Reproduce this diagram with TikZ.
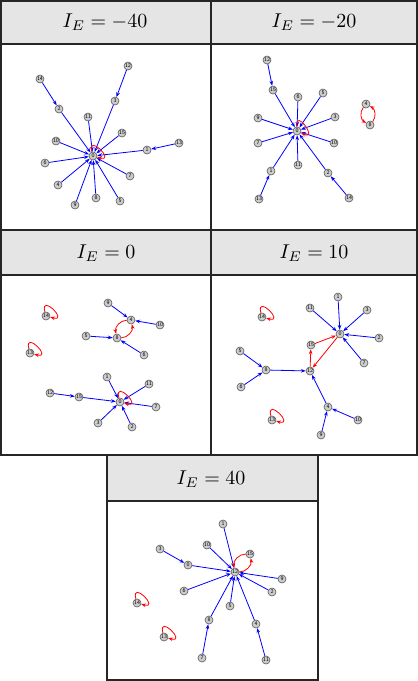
\documentclass[tikz,border=0pt]{standalone}
\usetikzlibrary{arrows.meta}
\tikzset{
  vtx/.style={circle,draw=black!65,fill=black!20,line width=0.3pt,minimum size=4pt,inner sep=0pt,
    font=\sffamily\fontsize{2.8}{3}\selectfont},
  flow/.style={blue,line width=0.4pt,-{Stealth[length=2.4pt,width=1.8pt]}},
  cyc/.style={flow,red},
  selfloop/.style={cyc,out=105,in=-15,min distance=10pt},
  frame/.style={black!85,line width=0.75pt},
  hdr/.style={fill=black!10},
  title/.style={font=\normalsize}
}
\begin{document}
\begin{tikzpicture}[x=0.5pt,y=0.5pt]
  \useasboundingbox (0,0) rectangle (418,-681);
  % frames and headers
  \fill[hdr] (1,-1) rectangle (417,-44);
  \fill[hdr] (1,-230) rectangle (417,-275);
  \fill[hdr] (107,-455) rectangle (318,-501);
  \draw[frame] (1,-1) rectangle (417,-455);
  \draw[frame] (211,-1) -- (211,-455);
  \draw[frame] (1,-44) -- (417,-44) (1,-230) -- (417,-230) (1,-275) -- (417,-275);
  \draw[frame] (107,-455) rectangle (318,-680) (107,-501) -- (318,-501);
  \node[title] (ta) at (105,-22) {$I_E = -40$};
  \node[title] (tb) at (314,-22) {$I_E = -20$};
  \node[title] (tc) at (106,-253) {$I_E = 0$};
  \node[title] (td) at (314,-253) {$I_E = 10$};
  \node[title] (te) at (211,-479) {$I_E = 40$};
  % I_E = -40
  \node[vtx] (a0) at (93,-156) {0};     \node[vtx] (a1) at (147,-150) {1};
  \node[vtx] (a2) at (59,-109) {2};     \node[vtx] (a3) at (115,-101) {3};
  \node[vtx] (a4) at (58,-185) {4};     \node[vtx] (a5) at (120,-201) {5};
  \node[vtx] (a6) at (45,-163) {6};     \node[vtx] (a7) at (130,-176) {7};
  \node[vtx] (a8) at (96,-198) {8};     \node[vtx] (a9) at (75,-205) {9};
  \node[vtx] (a10) at (56,-141) {10};   \node[vtx] (a11) at (88,-117) {11};
  \node[vtx] (a12) at (128,-66) {12};   \node[vtx] (a13) at (179,-143) {13};
  \node[vtx] (a14) at (40,-79) {14};    \node[vtx] (a15) at (122,-133) {15};
  \path[flow] (a14) edge (a2) (a2) edge (a0) (a12) edge (a3) (a3) edge (a0)
    (a13) edge (a1) (a1) edge (a0) (a11) edge (a0) (a15) edge (a0)
    (a10) edge (a0) (a6) edge (a0) (a4) edge (a0) (a9) edge (a0)
    (a8) edge (a0) (a5) edge (a0) (a7) edge (a0);
  \draw[selfloop] (a0) to (a0);
  % I_E = -20
  \node[vtx] (b0) at (297,-131) {0};    \node[vtx] (b1) at (271,-171) {1};
  \node[vtx] (b2) at (328,-173) {2};    \node[vtx] (b3) at (335,-117) {3};
  \node[vtx] (b4) at (366,-104) {4};    \node[vtx] (b5) at (323,-93) {5};
  \node[vtx] (b6) at (298,-97) {6};     \node[vtx] (b7) at (258,-143) {7};
  \node[vtx] (b8) at (370,-125) {8};    \node[vtx] (b9) at (258,-118) {9};
  \node[vtx] (b10) at (334,-143) {10};  \node[vtx] (b11) at (298,-165) {11};
  \node[vtx] (b12) at (267,-60) {12};   \node[vtx] (b13) at (259,-199) {13};
  \node[vtx] (b14) at (349,-198) {14};  \node[vtx] (b15) at (273,-90) {15};
  \path[flow] (b12) edge (b15) (b15) edge (b0) (b6) edge (b0) (b5) edge (b0)
    (b9) edge (b0) (b3) edge (b0) (b7) edge (b0) (b10) edge (b0)
    (b1) edge (b0) (b11) edge (b0) (b2) edge (b0) (b13) edge (b1) (b14) edge (b2);
  \draw[selfloop,out=95,in=-25] (b0) to (b0);
  \path[cyc] (b4) edge[bend right=50] (b8) (b8) edge[bend right=50] (b4);
  % I_E = 0
  \node[vtx] (c0) at (120,-402) {0};    \node[vtx] (c1) at (107,-377) {1};
  \node[vtx] (c2) at (132,-427) {2};    \node[vtx] (c3) at (98,-423) {3};
  \node[vtx] (c4) at (131,-320) {4};    \node[vtx] (c5) at (86,-336) {5};
  \node[vtx] (c6) at (144,-355) {6};    \node[vtx] (c7) at (156,-407) {7};
  \node[vtx] (c8) at (117,-338) {8};    \node[vtx] (c9) at (108,-303) {9};
  \node[vtx] (c10) at (160,-325) {10};  \node[vtx] (c11) at (149,-384) {11};
  \node[vtx] (c12) at (50,-393) {12};   \node[vtx] (c13) at (30,-353) {13};
  \node[vtx] (c14) at (46,-316) {14};   \node[vtx] (c15) at (79,-397) {15};
  \path[flow] (c9) edge (c4) (c10) edge (c4) (c5) edge (c8) (c6) edge (c8)
    (c12) edge (c15) (c15) edge (c0) (c1) edge (c0) (c11) edge (c0)
    (c7) edge (c0) (c3) edge (c0) (c2) edge (c0);
  \path[cyc] (c4) edge[bend right=50] (c8) (c8) edge[bend right=50] (c4);
  \draw[selfloop] (c0) to (c0);
  \draw[selfloop] (c13) to (c13);
  \draw[selfloop] (c14) to (c14);
  % I_E = 10
  \node[vtx] (d0) at (340,-334) {0};    \node[vtx] (d1) at (338,-297) {1};
  \node[vtx] (d2) at (379,-338) {2};    \node[vtx] (d3) at (367,-310) {3};
  \node[vtx] (d4) at (328,-407) {4};    \node[vtx] (d5) at (240,-351) {5};
  \node[vtx] (d6) at (241,-387) {6};    \node[vtx] (d7) at (364,-363) {7};
  \node[vtx] (d8) at (266,-370) {8};    \node[vtx] (d9) at (321,-435) {9};
  \node[vtx] (d10) at (358,-420) {10};  \node[vtx] (d11) at (310,-308) {11};
  \node[vtx] (d12) at (310,-371) {12};  \node[vtx] (d13) at (272,-420) {13};
  \node[vtx] (d14) at (262,-317) {14};  \node[vtx] (d15) at (311,-345) {15};
  \path[flow] (d11) edge (d0) (d1) edge (d0) (d3) edge (d0) (d2) edge (d0)
    (d7) edge (d0) (d5) edge (d8) (d6) edge (d8) (d8) edge (d12)
    (d4) edge (d12) (d10) edge (d4) (d9) edge (d4);
  \path[cyc] (d15) edge (d0) (d0) edge (d12) (d12) edge (d15);
  \draw[selfloop] (d13) to (d13);
  \draw[selfloop] (d14) to (d14);
  % I_E = 40
  \node[vtx] (e0) at (188,-565) {0};    \node[vtx] (e1) at (223,-524) {1};
  \node[vtx] (e2) at (272,-592) {2};    \node[vtx] (e3) at (160,-549) {3};
  \node[vtx] (e4) at (256,-624) {4};    \node[vtx] (e5) at (230,-606) {5};
  \node[vtx] (e6) at (184,-591) {6};    \node[vtx] (e7) at (202,-658) {7};
  \node[vtx] (e8) at (209,-620) {8};    \node[vtx] (e9) at (282,-579) {9};
  \node[vtx] (e10) at (207,-545) {10};  \node[vtx] (e11) at (266,-660) {11};
  \node[vtx] (e12) at (235,-572) {12};  \node[vtx] (e13) at (164,-637) {13};
  \node[vtx] (e14) at (137,-603) {14};  \node[vtx] (e15) at (250,-554) {15};
  \path[flow] (e3) edge (e0) (e0) edge (e12) (e10) edge (e12) (e1) edge (e12)
    (e9) edge (e12) (e2) edge (e12) (e6) edge (e12) (e5) edge (e12)
    (e8) edge (e12) (e7) edge (e8) (e4) edge (e12) (e11) edge (e4);
  \path[cyc] (e12) edge[bend right=50] (e15) (e15) edge[bend right=50] (e12);
  \draw[selfloop] (e13) to (e13);
  \draw[selfloop] (e14) to (e14);
\end{tikzpicture}
\end{document}
